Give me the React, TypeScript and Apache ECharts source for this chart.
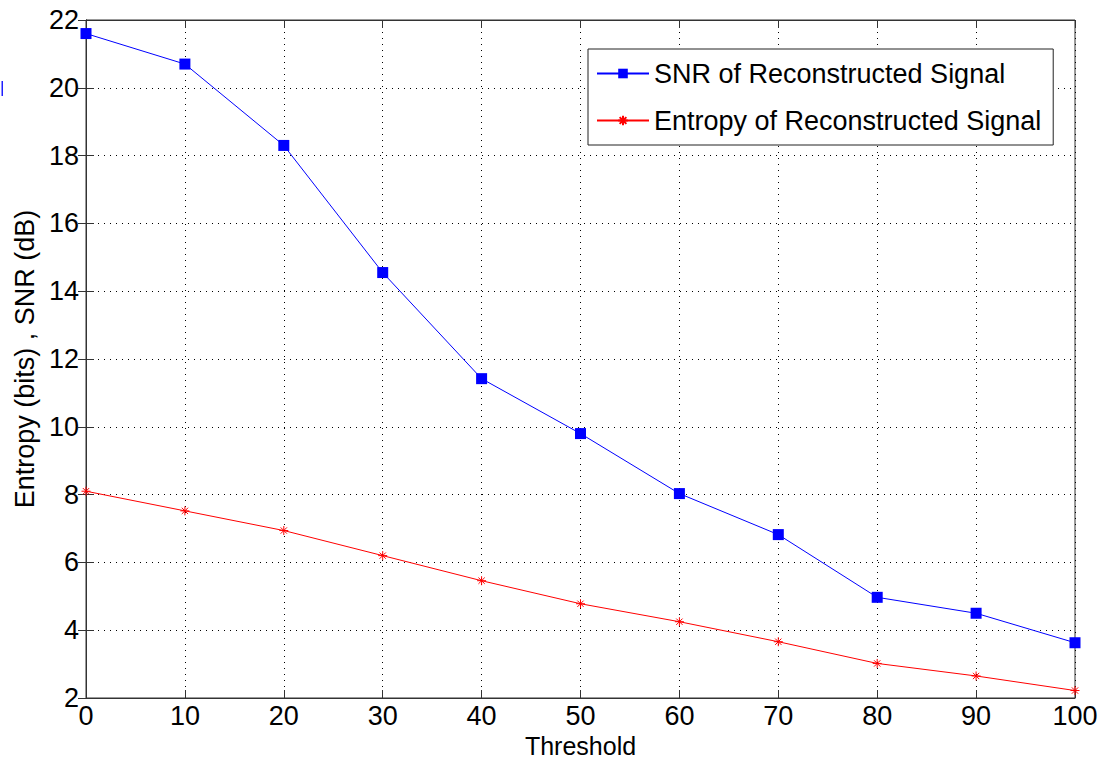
import React, { useEffect, useRef } from "react";
import * as echarts from "echarts";

const thresholds = [0, 10, 20, 30, 40, 50, 60, 70, 80, 90, 100];
const snrValues = [21.6, 20.7, 18.3, 14.55, 11.42, 9.8, 8.03, 6.82, 4.97, 4.5, 3.63];
const entropyValues = [8.1, 7.52, 6.94, 6.2, 5.46, 4.78, 4.25, 3.66, 3.02, 2.65, 2.22];
const seriesNames = ["SNR of Reconstructed Signal", "Entropy of Reconstructed Signal"];

const FONT = "Liberation Sans, Arial, Helvetica, sans-serif";
const STAR =
  "path://M0,-5L0,5M-5,0L5,0M-3.5,-3.5L3.5,3.5M-3.5,3.5L3.5,-3.5";

export default function App() {
  const ref = useRef<HTMLDivElement>(null);
  useEffect(() => {
    if (!ref.current) return;
    const chart = echarts.init(ref.current, undefined, { renderer: "svg" });
    const gridLine = { show: true, lineStyle: { color: "#000", type: [1, 5] as any, width: 1 } };
    const axisLine = { show: true, lineStyle: { color: "#333", width: 1 } };
    const tick = { show: true, inside: true, length: 8, lineStyle: { color: "#333" } };
    chart.setOption({
      animation: false,
      backgroundColor: "#fff",
      textStyle: { fontFamily: FONT },
      grid: {
        left: 86,
        right: 25,
        top: 20,
        bottom: 61,
        show: true,
        borderColor: "#333",
        borderWidth: 1,
        containLabel: false,
        outerBoundsMode: "none",
      },
      legend: {
        left: 588,
        top: 49,
        orient: "vertical",
        backgroundColor: "#fff",
        borderColor: "#222",
        borderWidth: 1,
        padding: [11, 12, 11, 8],
        itemGap: 20,
        itemWidth: 52,
        itemHeight: 12,
        textStyle: { fontSize: 27, color: "#000", fontFamily: FONT },
        data: seriesNames,
      },
      xAxis: [
        {
          type: "value",
          min: 0,
          max: 100,
          interval: 10,
          name: "Threshold",
          nameLocation: "middle",
          nameGap: 31,
          nameTextStyle: { fontSize: 25, color: "#000", fontFamily: FONT },
          axisLine,
          axisTick: tick,
          axisLabel: { fontSize: 27, color: "#000", margin: 4, fontFamily: FONT },
          splitLine: gridLine,
        },
        {
          type: "value",
          position: "top",
          min: 0,
          max: 100,
          interval: 10,
          axisLine,
          axisTick: tick,
          axisLabel: { show: false },
          splitLine: { show: false },
        },
      ],
      yAxis: [
        {
          type: "value",
          min: 2,
          max: 22,
          interval: 2,
          name: "Entropy (bits) , SNR (dB)",
          nameLocation: "middle",
          nameGap: 44,
          nameTextStyle: { fontSize: 27, color: "#000", fontFamily: FONT },
          axisLine,
          axisTick: tick,
          axisLabel: { fontSize: 27, color: "#000", margin: 7, fontFamily: FONT },
          splitLine: gridLine,
        },
        {
          type: "value",
          position: "right",
          min: 2,
          max: 22,
          interval: 2,
          axisLine,
          axisTick: tick,
          axisLabel: { show: false },
          splitLine: { show: false },
        },
      ],
      graphic: [
        { type: "rect", shape: { x: 1.5, y: 81, width: 1.5, height: 15 }, style: { fill: "#2020ff" } },
      ],
      series: [
        {
          name: seriesNames[0],
          type: "line",
          data: thresholds.map((t, i) => [t, snrValues[i]]),
          symbol: "rect",
          symbolSize: 11,
          lineStyle: { color: "#0000ff", width: 1 },
          itemStyle: { color: "#0000ff" },
          z: 3,
        },
        {
          name: seriesNames[1],
          type: "line",
          data: thresholds.map((t, i) => [t, entropyValues[i]]),
          symbol: STAR,
          symbolSize: 9,
          lineStyle: { color: "#ff0000", width: 1 },
          itemStyle: { color: "#ff0000", borderColor: "#ff0000", borderWidth: 1 },
          z: 3,
        },
      ],
    });
    return () => chart.dispose();
  }, []);
  return <div ref={ref} style={{ width: 1100, height: 759, position: "absolute", left: 0, top: 0 }} />;
}
